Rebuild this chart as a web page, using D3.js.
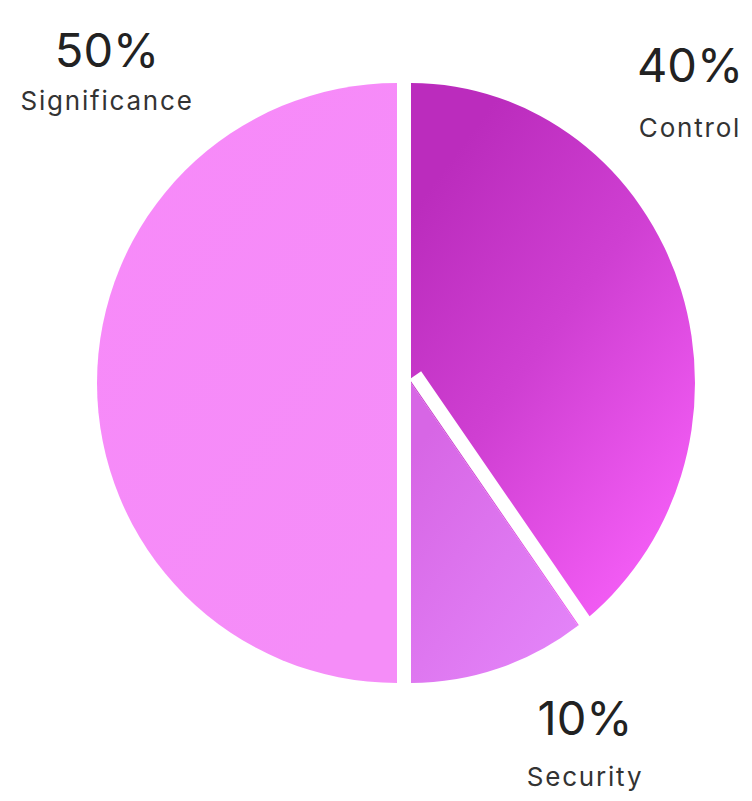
<!DOCTYPE html>
<html>
<head>
<meta charset="utf-8">
<script src="https://cdn.jsdelivr.net/npm/d3@7"></script>
<style>
  html, body { margin: 0; padding: 0; background: #fff; }
  text { font-family: Inter, "Open Sans", sans-serif; }
</style>
</head>
<body>
<div id="chart"></div>
<script>
const categories = ["Control", "Security", "Significance"];
const shares = [40, 10, 50];
const pctLabels = ["40%", "10%", "50%"];

const width = 752, height = 801;
const R = 300;
const cy = 383;
const gap = 14;
const gapNudge = 8; // the drawn gap sits a little toward Control

// label anchors (value line baseline)
const labelPos = {
  "Control": [690, 82],
  "Security": [585, 735],
  "Significance": [107, 67]
};
const nameDrop = {"Control": 55, "Security": 51, "Significance": 43};

const svg = d3.select("#chart").append("svg")
  .attr("width", width)
  .attr("height", height);

const defs = svg.append("defs");
const grads = {
  "Control": [["0%", "#bb2cbd"], ["45%", "#cf3fd2"], ["100%", "#f55ef7"]],
  "Security": [["0%", "#d766e5"], ["100%", "#e383f8"]],
  "Significance": [["0%", "#f78af9"], ["100%", "#f58df8"]]
};
Object.entries(grads).forEach(([k, stops]) => {
  const g = defs.append("linearGradient")
    .attr("id", "g-" + k)
    .attr("x1", "0.2").attr("y1", "0.1")
    .attr("x2", "0.8").attr("y2", "0.95");
  stops.forEach(s => g.append("stop").attr("offset", s[0]).attr("stop-color", s[1]));
});

const pie = d3.pie().sort(null).value(d => d.v);
const arcs = pie(categories.map((c, i) => ({c, v: shares[i]})));
const arc = d3.arc().innerRadius(0).outerRadius(R);

// right half sits a bit narrower than the left in the picture
const centerX = 404;
const rightX = centerX + gap / 2, leftX = centerX - gap / 2;
const squeeze = 284 / R;

const right = svg.append("g").attr("transform", `translate(${rightX},${cy}) scale(${squeeze},1)`);
const left = svg.append("g").attr("transform", `translate(${leftX},${cy})`);

arcs.forEach(a => {
  const host = a.endAngle <= Math.PI + 1e-6 ? right : left;
  host.append("path")
    .attr("d", arc(a))
    .attr("fill", `url(#g-${a.data.c})`);
});

// white gap between control and security
arcs.filter(a => a.endAngle < Math.PI - 1e-6).forEach(a => {
  const t = a.endAngle;
  const px = r => rightX + squeeze * r * Math.sin(t);
  const py = r => cy - r * Math.cos(t);
  const dx = px(1) - px(0), dy = py(1) - py(0);
  const len = Math.hypot(dx, dy);
  const nx = dy / len * gapNudge, ny = -dx / len * gapNudge;
  svg.append("line")
    .attr("x1", px(-4) + nx).attr("y1", py(-4) + ny)
    .attr("x2", px(R + 20) + nx).attr("y2", py(R + 20) + ny)
    .attr("stroke", "#fff")
    .attr("stroke-width", gap);
});

arcs.forEach((a, i) => {
  const [x, y] = labelPos[a.data.c];
  svg.append("text")
    .attr("x", x).attr("y", y)
    .attr("text-anchor", "middle")
    .attr("font-size", 47)
    .attr("fill", "#222")
    .text(pctLabels[i]);
  svg.append("text")
    .attr("x", x).attr("y", y + nameDrop[a.data.c])
    .attr("text-anchor", "middle")
    .attr("font-size", 26)
    .attr("letter-spacing", 1.8)
    .attr("fill", "#333")
    .text(a.data.c);
});
</script>
</body>
</html>
